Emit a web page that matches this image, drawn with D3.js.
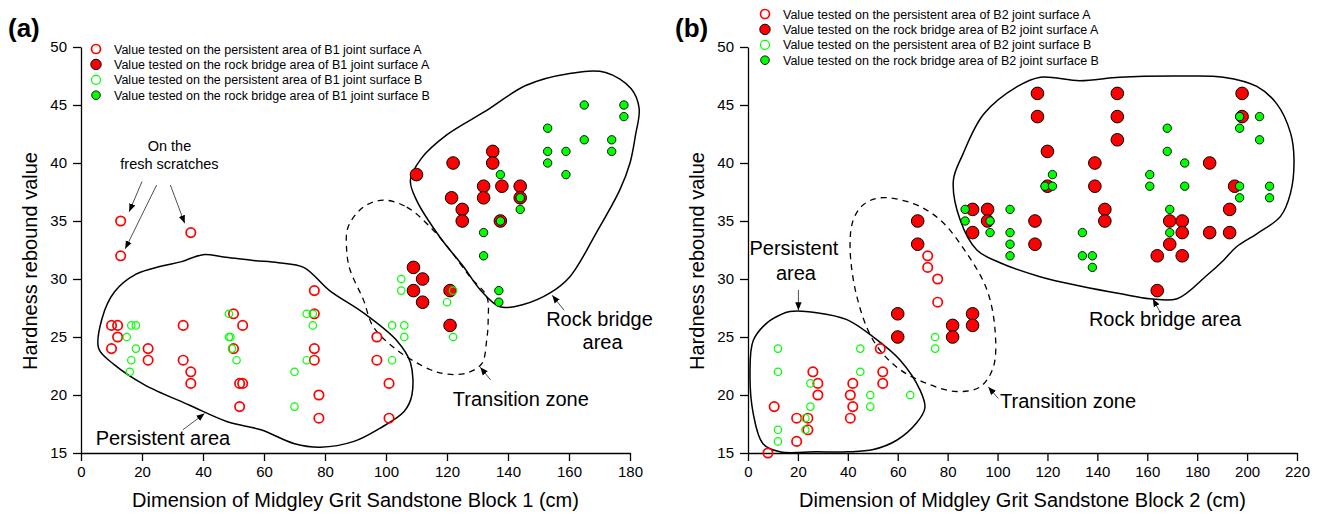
<!doctype HTML>
<html>
<head>
    <style>
        body { margin: 0; background: white; }
        svg text { font-family: Arial, "Liberation Sans", sans-serif; fill: black; }
        .axis path, .axis line { stroke: black; stroke-width: 1.3px; }
        .axis text { font-size: 15px; }
        .outline { fill: none; stroke: black; stroke-width: 1.5px; }
        .dashed { stroke-dasharray: 6, 5; stroke-width: 1.3px; }
        .arrow { stroke: #222; stroke-width: 0.8px; }
    </style>
    <script src="https://d3js.org/d3.v7.min.js"></script>
</head>
<body>
<script>
    // ---- data: [dimension (cm), hardness rebound value] ----
    var b1PersistA = [[13,35],[36,34],[13,32],[10,26],[12,26],[12,25],[10,24],[22,24],[22,23],[33.5,26],[33.5,23],
        [36,22],[36,21],[50,27],[53,26],[50,24],[52,21],[53,21],[52,19],[76.5,29],[76.5,27],[76.5,24],[76.5,23],
        [78,20],[78,18],[97,25],[97,23],[101,21],[101,18]];
    var b1BridgeA = [[109,31],[112,30],[109,29],[112,28],[121,29],[121,26],[110,39],[122,40],[121.5,37],[125,36],
        [125,35],[132,38],[132,37],[135,41],[135,40],[138,38],[137.5,35],[144,38],[144,37]];
    var b1PersistB = [[15,25],[16.5,26],[18,26],[18,24],[16.5,23],[16,22],[48.5,27],[48.5,25],[49,25],[49.5,24],
        [51,23],[70,22],[70,19],[74,27],[76,27],[76,26],[74,23],[105,30],[105,29],[102,26],[106,26],[106,25],
        [102,23],[120,28],[122,29],[122,25]];
    var b1BridgeB = [[137.5,39],[144,37],[144,36],[137.5,35],[132,34],[132,32],[137,29],[137,28],[153,43],[153,41],
        [153,40],[159,41],[159,39],[165,45],[165,42],[174,42],[174,41],[178,45],[178,44]];

    var b2PersistA = [[72,32],[72,31],[76,30],[76,28],[53,24],[26,22],[54,22],[28,21],[54,21],[28,20],[42,21],
        [41,20],[42,19],[41,18],[10.5,19],[19.5,18],[24,18],[24,17],[19.5,16],[8,15]];
    var b2BridgeA = [[60,27],[60,25],[82,26],[82,25],[90,27],[90,26],[164,29],[68,35],[68,33],[116,46],[116,44],
        [120,41],[120,38],[90,36],[90,34],[96,36],[96,35],[115,35],[115,33],[139,40],[139,38],[143,36],[143,35],
        [148,46],[148,44],[148,42],[169,35],[169,33],[174,35],[174,34],[164,32],[174,32],[185,40],[185,34],
        [193,36],[193,34],[195,38],[198,46],[198,44]];
    var b2PersistB = [[12,24],[12,22],[45,24],[45,22],[25,21],[25,19],[49,20],[49,19],[65,20],[23,18],[23,17],
        [12,17],[12,16],[75,25],[75,24]];
    var b2BridgeB = [[87,36],[87,35],[97,35],[97,34],[105,36],[105,34],[105,33],[105,32],[119,38],[122,38],
        [122,39],[134,34],[134,32],[138,32],[138,31],[161,39],[161,38],[168,43],[168,41],[175,40],[175,38],
        [169,36],[169,34],[197,44],[197,43],[205,44],[205,42],[197,38],[197,37],[209,38],[209,37]];

    var xTicksA = [0,20,40,60,80,100,120,140,160,180];
    var xTicksB = [0,20,40,60,80,100,120,140,160,180,200,220];
    var yTicks = [15,20,25,30,35,40,45,50];

    var legendA = ["Value tested on the persistent area of B1 joint surface A",
                   "Value tested on the rock bridge area of B1 joint surface A",
                   "Value tested on the persistent area of B1 joint surface B",
                   "Value tested on the rock bridge area of B1 joint surface B"];
    var legendB = ["Value tested on the persistent area of B2 joint surface A",
                   "Value tested on the rock bridge area of B2 joint surface A",
                   "Value tested on the persistent area of B2 joint surface B",
                   "Value tested on the rock bridge area of B2 joint surface B"];

    // zone outlines sketched in data units
    var zonePersistA = [[5.8,24],[6.9,26.6],[11,28.9],[17.9,30.4],[26.2,31.1],[33,31.5],[40,32.1],[46.8,31.9],
        [56.5,31.6],[64.7,31.4],[73,31],[81.5,29],[92.5,27.1],[103.5,24.7],[108,22.8],[108.5,20],[106,18.6],
        [97.8,17.1],[89.5,16],[78.5,15.5],[70,15.8],[59,17],[48,17.7],[35.8,19.1],[20.7,20.9],[11,22.6]];
    var zoneTransA = [[99.1,36.8],[106.8,36.2],[114.4,34.5],[121,32.5],[127.5,30.2],[133,28.5],[133.5,26.5],
        [133,24.7],[131.4,22.7],[126.5,21.9],[120,21.8],[114.4,22.2],[103.5,23.9],[95.8,25.9],[92.6,28.2],
        [88.2,30.8],[87.1,32.5],[87.6,34.5],[92.6,36.2]];
    var zoneBridgeA = [[108,38.5],[111.6,40.4],[119.8,42.4],[132.2,44.4],[146,46.7],[159.8,47.7],[172,47.8],
        [180.4,46.4],[183,44.7],[181.8,42.4],[180,40],[176.7,37.7],[169,34],[160.3,30.2],[153.8,28.8],
        [145,27.8],[137.4,27.6],[130.8,29.1],[125.3,31.1],[117.7,33.6],[110,36.8]];
    var zonePersistB = [[12.8,26.9],[16.8,27.2],[27.5,27.1],[39.6,26.5],[50.2,25],[61,23],[69,20.4],[70.9,18.9],
        [67.6,17.6],[59.6,16.1],[50.2,15.3],[40,15.1],[27.5,15.1],[12.8,15.1],[6,15.8],[2.1,18.4],[0.8,21.9],
        [2.1,24.7],[7.5,26.2]];
    var zoneTransB = [[52.9,37],[66.2,36.5],[77,35.1],[87.7,32.2],[95.7,29.1],[99,25.6],[98.3,22.4],[93,20.7],
        [83.6,20.3],[71.6,21],[59.6,22.4],[50.2,24.7],[43.6,28.5],[40.9,32.8],[42.2,35.1],[46.2,36.4]];
    var zoneBridgeB = [[82.3,38.5],[86,40.7],[94.4,44.2],[108,46.6],[117.2,47.4],[133,47.1],[149,47.4],
        [173,47.5],[190.5,47.4],[203.9,46.6],[211.9,45.1],[217.4,42.6],[218.8,40.3],[217.4,37.4],[213.4,35.4],
        [203.9,33.9],[195.9,32.8],[190.5,31.6],[183.8,30.3],[172,28.3],[161,28.3],[150,28.7],[133,29.4],
        [117,30.2],[101,31.4],[91.7,32.5],[85,35.1]];

    var svg = d3.select("body").append("svg")
        .attr("width", 1320)
        .attr("height", 517);

    svg.append("defs").append("marker")
        .attr("id", "head")
        .attr("viewBox", "0 0 10 10")
        .attr("refX", 10).attr("refY", 5)
        .attr("markerWidth", 8).attr("markerHeight", 8)
        .attr("markerUnits", "userSpaceOnUse")
        .attr("orient", "auto")
        .append("path")
        .attr("d", "M0,1 L10,5 L0,9 Z")
        .attr("fill", "black");

    // marker styles: persistent A, rock bridge A, persistent B, rock bridge B
    var styles = [
        {r: 4.7, lr: 4.5, fill: "none", stroke: "#ff0000", sw: 1.7},
        {r: 6.3, lr: 5.2, fill: "#ff0000", stroke: "black", sw: 1},
        {r: 3.7, lr: 4.5, fill: "none", stroke: "#00ff00", sw: 1.2},
        {r: 4.2, lr: 4.3, fill: "#00ff00", stroke: "black", sw: 0.9}
    ];

    function drawPanel(p) {
        var x = d3.scaleLinear().domain(p.xDomain).range([p.left, p.right]);
        var y = d3.scaleLinear().domain([15, 50]).range([453, 47]);
        var g = svg.append("g");

        // zones
        var line = d3.line().x(function(d) { return x(d[0]); }).y(function(d) { return y(d[1]); })
            .curve(d3.curveCatmullRomClosed.alpha(0.5));
        g.append("path").attr("class", "outline").attr("d", line(p.zones[0]));
        g.append("path").attr("class", "outline dashed").attr("d", line(p.zones[1]));
        g.append("path").attr("class", "outline").attr("d", line(p.zones[2]));

        // axes
        g.append("g").attr("class", "axis")
            .attr("transform", "translate(0,453)")
            .call(d3.axisBottom(x).tickValues(p.xTicks).tickSize(8).tickSizeOuter(0).tickPadding(5));
        g.append("g").attr("class", "axis")
            .attr("transform", "translate(" + p.left + ",0)")
            .call(d3.axisLeft(y).tickValues(yTicks).tickSize(8).tickSizeOuter(0).tickPadding(6));
        g.selectAll(".axis .domain").attr("stroke", "black");

        // points
        p.series.forEach(function(s, i) {
            var st = styles[i];
            g.selectAll(null)
                .data(s)
                .enter()
                .append("circle")
                    .attr("cx", function(d) { return x(d[0]); })
                    .attr("cy", function(d) { return y(d[1]); })
                    .attr("r", st.r)
                    .attr("fill", st.fill)
                    .attr("stroke", st.stroke)
                    .attr("stroke-width", st.sw);
        });

        // legend
        p.legend.forEach(function(t, i) {
            var st = styles[i];
            var ly = p.legendY + i * 15.4;
            g.append("circle")
                .attr("cx", p.legendX).attr("cy", ly).attr("r", st.lr)
                .attr("fill", st.fill).attr("stroke", st.stroke).attr("stroke-width", st.sw);
            g.append("text")
                .attr("x", p.legendX + 18).attr("y", ly).attr("dy", "0.36em")
                .style("font-size", "12.5px")
                .text(t);
        });

        // axis titles
        g.append("text")
            .attr("transform", "translate(" + (p.left - 51) + ",261) rotate(-90)")
            .attr("text-anchor", "middle").attr("dy", "0.36em")
            .style("font-size", "20px")
            .text("Hardness rebound value");
        g.append("text")
            .attr("x", (p.left + p.right) / 2).attr("y", 500).attr("dy", "0.36em")
            .attr("text-anchor", "middle")
            .style("font-size", "20px")
            .text(p.xTitle);

        g.append("text")
            .attr("x", p.left - 73).attr("y", 37)
            .style("font-size", "26px").style("font-weight", "bold")
            .text(p.tag);

        // annotation labels
        p.labels.forEach(function(l) {
            g.append("text")
                .attr("x", x(l.at[0])).attr("y", y(l.at[1])).attr("dy", "0.36em")
                .attr("text-anchor", l.anchor)
                .style("font-size", l.size + "px")
                .text(l.text);
        });
        p.arrows.forEach(function(a) {
            g.append("line")
                .attr("class", "arrow")
                .attr("x1", x(a[0][0])).attr("y1", y(a[0][1]))
                .attr("x2", x(a[1][0])).attr("y2", y(a[1][1]))
                .attr("marker-end", "url(#head)");
        });
    }

    drawPanel({
        tag: "(a)", left: 81, right: 630, xDomain: [0, 180], xTicks: xTicksA,
        xTitle: "Dimension of Midgley Grit Sandstone Block 1 (cm)",
        series: [b1PersistA, b1BridgeA, b1PersistB, b1BridgeB],
        zones: [zonePersistA, zoneTransA, zoneBridgeA],
        legend: legendA, legendX: 96, legendY: 49,
        labels: [
            {text: "On the", at: [29, 41.5], anchor: "middle", size: 14.5},
            {text: "fresh scratches", at: [29, 39.9], anchor: "middle", size: 14.5},
            {text: "Persistent area", at: [4.8, 16.3], anchor: "start", size: 20},
            {text: "Transition zone", at: [121.9, 19.7], anchor: "start", size: 20},
            {text: "Rock bridge", at: [170, 26.6], anchor: "middle", size: 20},
            {text: "area", at: [171, 24.6], anchor: "middle", size: 20}
        ],
        arrows: [
            [[20, 38.4], [15.8, 35.8]], [[24.8, 38.1], [14.5, 32.6]], [[29.3, 38.1], [34, 34.8]],
            [[33.4, 17], [40.5, 18.4]], [[134.3, 21.3], [130.9, 22.4]], [[158.4, 27.3], [154.5, 28.6]]
        ]
    });

    drawPanel({
        tag: "(b)", left: 748, right: 1297, xDomain: [0, 220], xTicks: xTicksB,
        xTitle: "Dimension of Midgley Grit Sandstone Block 2 (cm)",
        series: [b2PersistA, b2BridgeA, b2PersistB, b2BridgeB],
        zones: [zonePersistB, zoneTransB, zoneBridgeB],
        legend: legendB, legendX: 765, legendY: 14,
        labels: [
            {text: "Persistent", at: [18.4, 32.7], anchor: "middle", size: 20},
            {text: "area", at: [19.2, 30.5], anchor: "middle", size: 20},
            {text: "Transition zone", at: [101, 19.5], anchor: "start", size: 20},
            {text: "Rock bridge area", at: [136.6, 26.6], anchor: "start", size: 20}
        ],
        arrows: [
            [[20.2, 29.05], [20.2, 27.3]], [[100.3, 19.7], [96.3, 20.7]], [[165.3, 27.1], [162.2, 28.3]]
        ]
    });
</script>
</body>
</html>
